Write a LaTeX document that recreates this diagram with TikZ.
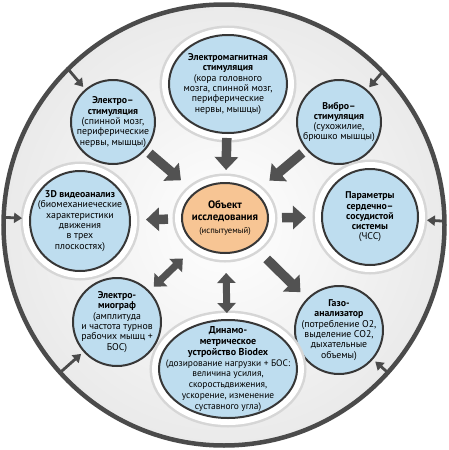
\documentclass[tikz,border=0pt]{standalone}
\usepackage{fontspec}
\setmainfont{PT Sans}
\usetikzlibrary{shapes.geometric, arrows.meta, positioning}
\definecolor{RingGray}{RGB}{75,75,75}
\definecolor{RingFill}{RGB}{234,234,234}
\definecolor{NodeBlue}{RGB}{190,221,239}
\definecolor{NodeOrange}{RGB}{247,197,148}
\definecolor{EdgeDark}{RGB}{55,55,55}
\definecolor{ArrowGray}{RGB}{82,82,82}
\definecolor{HaloGray}{RGB}{214,214,214}
\tikzset{
  ring/.style={
    circle, minimum size=441pt, inner sep=0pt, outer sep=0pt,
    draw=RingGray, line width=4.5pt,
    inner color=white, outer color=RingFill
  },
  probe/.style={
    circle, inner sep=0pt, outer sep=0pt,
    draw=EdgeDark, line width=2pt, fill=NodeBlue
  },
  oval/.style={
    ellipse, inner sep=0pt, outer sep=0pt,
    draw=EdgeDark, line width=2pt, fill=NodeBlue
  },
  haloed/.style={
    preaction={draw=HaloGray, line width=19pt},
    preaction={draw=white, line width=14pt}
  },
  txt/.style={align=center, text=black, font=\fontsize{9.8}{10.3}\selectfont},
  bigarr/.style={-{Triangle[length=13pt, width=23pt]}, draw=ArrowGray, line width=9.5pt},
  dblarr/.style={{Triangle[length=10pt, width=18pt]}-{Triangle[length=10pt, width=18pt]},
    draw=ArrowGray, line width=7pt},
  rimarr/.style={-{Triangle[length=8pt, width=10pt]}, draw=RingGray, line width=2.8pt}
}

\begin{document}
\begin{tikzpicture}[x=1pt, y=-1pt]
  \useasboundingbox (0,0) rectangle (448,450);

  % Outer ring
  \node[ring] (ring) at (224,225) {};

  % ── Upper row ──
  \node[oval, haloed, minimum width=118pt, minimum height=98pt,
    label={[txt]center:{\textbf{Электромагнитная}\\\textbf{стимуляция}\\(кора головного\\мозга, спинной мозг,\\периферические\\нервы, мышцы)}}]
    (emstim) at (228,84) {};
  \node[probe, minimum size=84pt,
    label={[txt]center:{\textbf{Электро–}\\\textbf{стимуляция}\\(спинной мозг,\\периферические\\нервы, мышцы)}}]
    (estim) at (113,122) {};
  \node[probe, minimum size=84pt,
    label={[txt]center:{\textbf{Вибро–}\\\textbf{стимуляция}\\(сухожилие,\\брюшко мышцы)}}]
    (vibro) at (339,122) {};

  % ── Middle row ──
  \node[probe, haloed, minimum size=100pt,
    label={[txt]center:{\textbf{3D видеоанализ}\\(биомеханиеческие\\характеристики\\движения\\в трех\\плоскостях)}}]
    (video) at (80,221) {};
  \node[oval, haloed, fill=NodeOrange, minimum width=86pt, minimum height=70pt,
    label={[txt, font=\fontsize{10.8}{12.2}\selectfont\bfseries]center:{Объект\\исследования\\{\mdseries\fontsize{8.6}{11.5}\selectfont(испытуемый)}}}]
    (obj) at (225,218) {};
  \node[probe, haloed, minimum size=96pt,
    label={[txt]center:{\textbf{Параметры}\\\textbf{сердечно–}\\\textbf{сосудистой}\\\textbf{системы}\\(ЧСС)}}]
    (cardio) at (370,217) {};

  % ── Lower row ──
  \node[probe, minimum size=88pt,
    label={[txt]center:{\textbf{Электро-}\\\textbf{миограф}\\(амплитуда\\и частота турнов\\рабочих мышц +\\БОС)}}]
    (emg) at (117,322) {};
  \node[probe, minimum size=88pt,
    label={[txt]center:{\textbf{Газо-}\\\textbf{анализатор}\\(потребление O2,\\выделение CO2,\\дыхательные\\объемы)}}]
    (gas) at (339,330) {};
  \node[oval, haloed, minimum width=138pt, minimum height=98pt,
    label={[txt, font=\fontsize{9.4}{10.8}\selectfont]center:{\textbf{\fontsize{10}{10.8}\selectfont Динамо-}\\\textbf{\fontsize{10}{10.8}\selectfont метрическое}\\\textbf{\fontsize{10}{10.8}\selectfont устройство Biodex}\\(дозирование нагрузки + БОС:\\величина усилия,\\скоростьдвижения,\\ускорение, изменение\\суставного угла)}}]
    (dyn) at (228,369) {};

  % ── Arrows to and from the object ──
  \draw[bigarr, shorten <=5pt, shorten >=13pt] (emstim) -- (obj);
  \draw[bigarr, shorten <=6pt, shorten >=19pt] (estim) -- (obj);
  \draw[bigarr, shorten <=6pt, shorten >=19pt] (vibro) -- (obj);
  \draw[bigarr, shorten <=14pt, shorten >=16pt] (obj) -- (video);
  \draw[bigarr, shorten <=14pt, shorten >=16pt] (obj) -- (cardio);
  \draw[bigarr, shorten <=20pt, shorten >=10pt] (obj) -- (gas);
  \draw[dblarr, shorten <=20pt, shorten >=7pt] (obj) -- (emg);
  \draw[dblarr, shorten <=20pt, shorten >=7pt] (obj) -- (dyn);

  % ── Arrows from the ring ──
  \draw[rimarr, shorten <=1pt, shorten >=4pt] (ring.135.7) -- (estim);
  \draw[rimarr, shorten <=1pt, shorten >=4pt] (ring.44.3) -- (vibro);
  \draw[rimarr, shorten <=1pt, shorten >=8pt] (ring.178.7) -- (video);
  \draw[rimarr, shorten <=1pt, shorten >=9pt] (ring.1.8) -- (cardio);
  \draw[rimarr, shorten <=1pt, shorten >=4pt] (ring.318) -- (gas);
  \draw[rimarr, shorten <=1pt, shorten >=4pt] (ring.222) -- (emg);
\end{tikzpicture}
\end{document}
